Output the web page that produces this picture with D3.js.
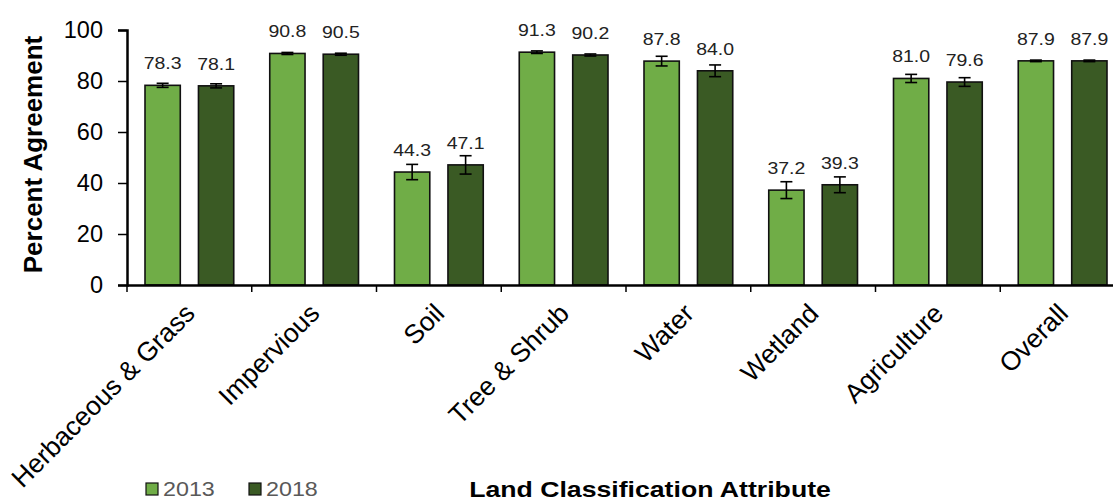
<!DOCTYPE html>
<html>
<head>
<meta charset="utf-8">
<script src="https://cdn.jsdelivr.net/npm/d3@7.9.0/dist/d3.min.js"></script>
<style>
  body { margin: 0; background: #fff; }
  svg { display: block; font-family: "Liberation Sans", Arial, sans-serif; }
</style>
</head>
<body>
<svg id="chart" width="1113" height="501"></svg>
<script>
const categories = ["Herbaceous & Grass", "Impervious", "Soil", "Tree & Shrub", "Water", "Wetland", "Agriculture", "Overall"];
const years = ["2013", "2018"];
const values2013 = [78.3, 90.8, 44.3, 91.3, 87.8, 37.2, 81.0, 87.9];
const values2018 = [78.1, 90.5, 47.1, 90.2, 84.0, 39.3, 79.6, 87.9];
const err2013 = [0.8, 0.4, 3.0, 0.5, 1.9, 3.3, 1.6, 0.3];
const err2018 = [0.8, 0.4, 3.6, 0.4, 2.3, 3.1, 1.7, 0.3];
const yTicks = [0, 20, 40, 60, 80, 100];

const colors = { "2013": "#70ad47", "2018": "#3a5a24" };

const svg = d3.select("#chart");
const margin = { left: 127, top: 30, right: -12, bottom: 216 };
const width = 1113 - margin.left - margin.right;
const height = 501 - margin.top - margin.bottom;

const rows = categories.map((c, i) => ({
  cat: c,
  bars: [
    { year: "2013", v: values2013[i], e: err2013[i] },
    { year: "2018", v: values2018[i], e: err2018[i] }
  ]
}));

const x = d3.scaleBand().domain(categories).range([0, width]).paddingInner(0).paddingOuter(0);
const xInner = d3.scaleBand().domain(years).range([18, x.bandwidth() - 18]).paddingInner(0.34);
const y = d3.scaleLinear().domain([0, 100]).range([height, 0]);

const g = svg.append("g").attr("transform", `translate(${margin.left},${margin.top})`);

const groups = g.selectAll("g.cat")
  .data(rows)
  .join("g")
  .attr("class", "cat")
  .attr("transform", d => `translate(${x(d.cat)},0)`);

const bars = groups.selectAll("g.bar")
  .data(d => d.bars)
  .join("g")
  .attr("class", "bar");

bars.append("rect")
  .attr("x", d => xInner(d.year))
  .attr("width", xInner.bandwidth())
  .attr("y", d => y(d.v))
  .attr("height", d => height - y(d.v))
  .attr("fill", d => colors[d.year])
  .attr("stroke", "#111")
  .attr("stroke-width", 1.6);

// error bars
const capW = 6;
bars.append("line")
  .attr("x1", d => xInner(d.year) + xInner.bandwidth() / 2)
  .attr("x2", d => xInner(d.year) + xInner.bandwidth() / 2)
  .attr("y1", d => y(d.v + d.e))
  .attr("y2", d => y(d.v - d.e))
  .attr("stroke", "#000").attr("stroke-width", 1.6);
bars.selectAll("line.cap")
  .data(d => [{ year: d.year, yv: d.v + d.e }, { year: d.year, yv: d.v - d.e }])
  .join("line")
  .attr("class", "cap")
  .attr("x1", d => xInner(d.year) + xInner.bandwidth() / 2 - capW)
  .attr("x2", d => xInner(d.year) + xInner.bandwidth() / 2 + capW)
  .attr("y1", d => y(d.yv))
  .attr("y2", d => y(d.yv))
  .attr("stroke", "#000").attr("stroke-width", 1.6);

// value labels (slightly wide, like the original)
bars.append("text")
  .attr("transform", d => `translate(${xInner(d.year) + xInner.bandwidth() / 2},${y(d.v) - 16}) scale(1.18,1)`)
  .attr("text-anchor", "middle")
  .style("font-size", "16.5px")
  .attr("fill", "#222")
  .text(d => d.v.toFixed(1));

// y axis
const yAxis = g.append("g")
  .call(d3.axisLeft(y).tickValues(yTicks).tickSize(9).tickPadding(15));
yAxis.select(".domain").attr("stroke", "#000").attr("stroke-width", 2.5);
yAxis.selectAll(".tick line").attr("stroke", "#000").attr("stroke-width", 1.5);
yAxis.selectAll("text").style("font-size", "23.5px").attr("fill", "#000")
  .style("font-family", "'Liberation Sans', Arial, sans-serif");

// x axis
const xAxis = g.append("g")
  .attr("transform", `translate(0,${height})`)
  .call(d3.axisBottom(x).tickSize(0).tickFormat(""));
xAxis.select(".domain").attr("stroke", "#000").attr("stroke-width", 2.5);
g.append("g")
  .selectAll("line")
  .data(d3.range(categories.length + 1))
  .join("line")
  .attr("x1", i => i * x.step())
  .attr("x2", i => i * x.step())
  .attr("y1", height)
  .attr("y2", height + 7)
  .attr("stroke", "#000").attr("stroke-width", 1.5);

g.append("g")
  .selectAll("text")
  .data(categories)
  .join("text")
  .attr("transform", d => `translate(${x(d) + x.bandwidth() / 2 + 7},${height + 30}) rotate(-45)`)
  .attr("text-anchor", "end")
  .style("font-size", "26.5px")
  .attr("fill", "#000")
  .text(d => d);

// axis titles
svg.append("text")
  .attr("transform", `translate(42,${margin.top + height / 2 - 3}) rotate(-90)`)
  .attr("text-anchor", "middle")
  .style("font-size", "26px")
  .style("font-weight", "bold")
  .text("Percent Agreement");

svg.append("text")
  .attr("transform", "translate(650,496.5) scale(1.24,1)")
  .attr("text-anchor", "middle")
  .style("font-size", "21.5px")
  .style("font-weight", "bold")
  .text("Land Classification Attribute");

// legend
const legend = svg.append("g").attr("transform", "translate(146,483)");
const li = legend.selectAll("g")
  .data(years)
  .join("g")
  .attr("transform", (d, i) => `translate(${i * 103},0)`);
li.append("rect")
  .attr("width", 12).attr("height", 12)
  .attr("fill", d => colors[d])
  .attr("stroke", "#111").attr("stroke-width", 1.2);
li.append("text")
  .attr("transform", "translate(17,13) scale(1.11,1)")
  .style("font-size", "21px")
  .attr("fill", "#595959")
  .text(d => d);
</script>
</body>
</html>
